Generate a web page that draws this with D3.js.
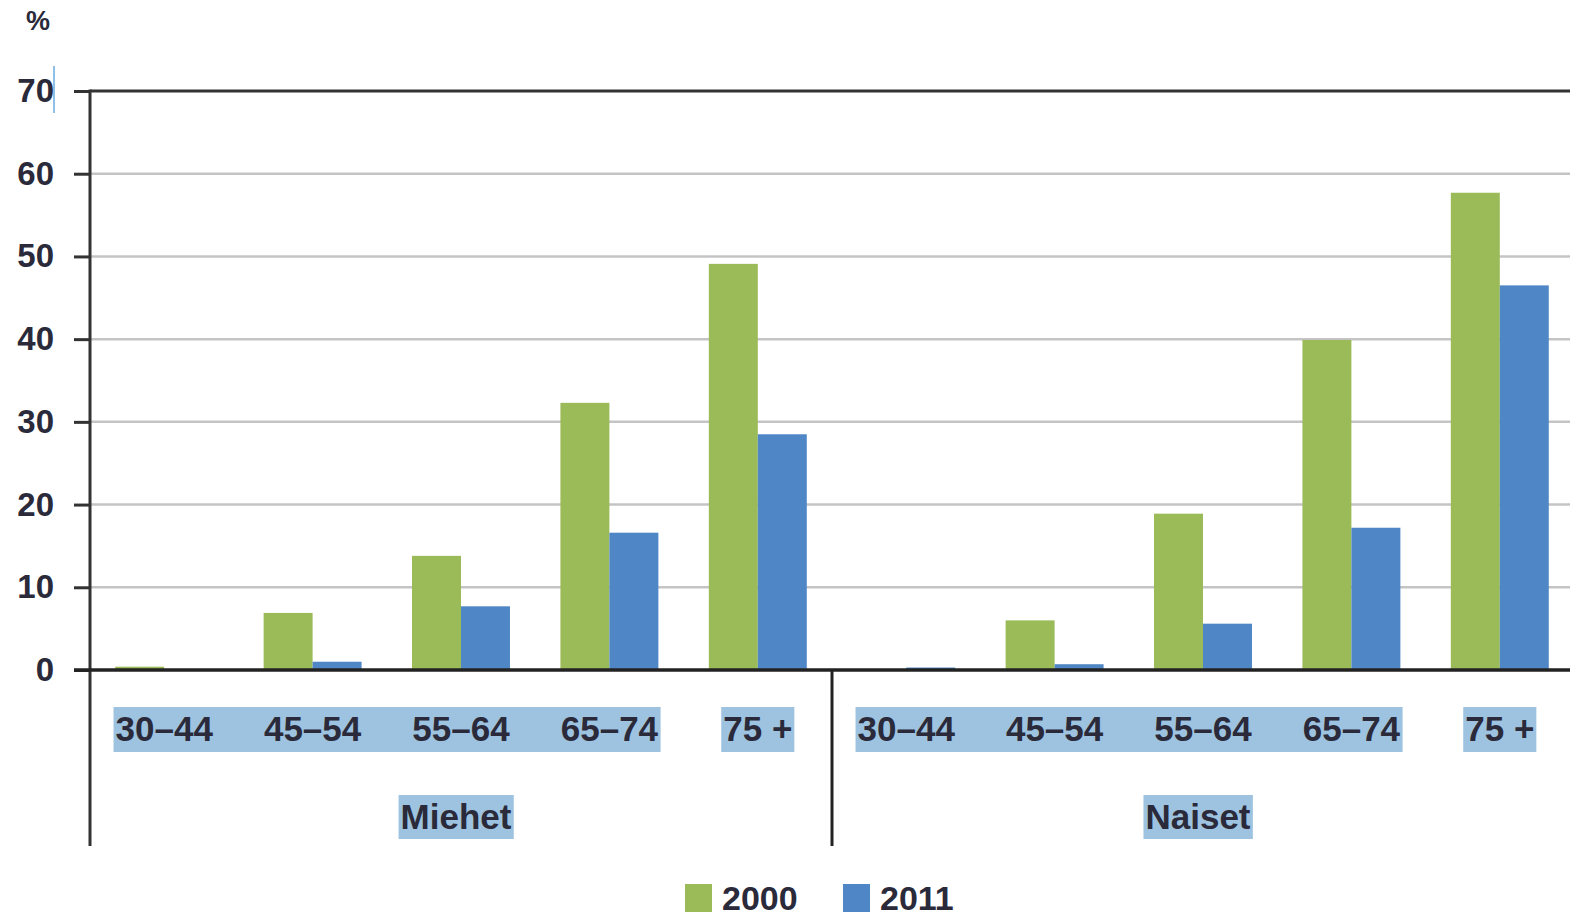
<!DOCTYPE html>
<html>
<head>
<meta charset="utf-8">
<script src="https://cdn.jsdelivr.net/npm/d3@7"></script>
<style>
  body { margin: 0; background: #fff; }
  svg { display: block; font-family: "Liberation Sans", Arial, sans-serif; }
</style>
</head>
<body>
<svg id="chart"></svg>
<script>
var groups = ['Miehet', 'Naiset']
var ageClasses = ['30–44', '45–54', '55–64', '65–74', '75 +']
var seriesNames = ['2000', '2011']
var values2000 = [0.4, 6.9, 13.8, 32.3, 49.1, 0.1, 6.0, 18.9, 39.9, 57.7]
var values2011 = [0.0, 1.0, 7.7, 16.6, 28.5, 0.3, 0.7, 5.6, 17.2, 46.5]
var yTicks = [0, 10, 20, 30, 40, 50, 60, 70]

var colors = ['#9bbb59', '#4f86c6']
var width = 1570, height = 917
var plotLeft = 90, plotRight = 1574, plotTop = 91, plotBottom = 670

var svg = d3.select('#chart')
    .attr('width', width)
    .attr('height', height)

// one key per bar category, e.g. "Miehet|30–44"
var keys = []
groups.forEach(function(g) {
    ageClasses.forEach(function(a) { keys.push(g + '|' + a) })
})

var x = d3.scaleBand()
    .domain(keys)
    .range([plotLeft, plotRight])
    .paddingInner(0)
    .paddingOuter(0)

var xSeries = d3.scaleBand()
    .domain(seriesNames)
    .range([0, x.bandwidth()])
    .paddingOuter(0.515)
    .paddingInner(0)

var y = d3.scaleLinear()
    .domain([0, 70])
    .range([plotBottom, plotTop])

// gridlines
svg.append('g')
    .selectAll('line')
    .data(yTicks.filter(function(d) { return d > 0 && d < 70 }))
    .enter()
    .append('line')
    .attr('x1', plotLeft)
    .attr('x2', width)
    .attr('y1', function(d) { return y(d) })
    .attr('y2', function(d) { return y(d) })
    .attr('stroke', '#c4c4c4')
    .attr('stroke-width', 2.5)

// top line at 70
svg.append('line')
    .attr('x1', plotLeft).attr('x2', width)
    .attr('y1', y(70)).attr('y2', y(70))
    .attr('stroke', '#333').attr('stroke-width', 3)

// bars
var rows = keys.map(function(k, i) {
    return { key: k, vals: [values2000[i], values2011[i]] }
})
var barGroups = svg.append('g')
    .selectAll('g')
    .data(rows)
    .enter()
    .append('g')
    .attr('transform', function(d) { return 'translate(' + x(d.key) + ',0)' })

barGroups.selectAll('rect')
    .data(function(d) { return d.vals.map(function(v, i) { return { s: seriesNames[i], v: v, c: colors[i] } }) })
    .enter()
    .append('rect')
    .attr('x', function(d) { return xSeries(d.s) })
    .attr('width', xSeries.bandwidth())
    .attr('y', function(d) { return y(d.v) })
    .attr('height', function(d) { return y(0) - y(d.v) })
    .attr('fill', function(d) { return d.c })

// y axis
var yAxis = d3.axisLeft(y)
    .tickValues(yTicks)
    .tickSize(16)
    .tickPadding(20)
    .tickFormat(d3.format('d'))

var yAxisG = svg.append('g')
    .attr('transform', 'translate(' + plotLeft + ',0)')
    .call(yAxis)
yAxisG.select('.domain').remove()
yAxisG.selectAll('.tick line').attr('stroke', '#333').attr('stroke-width', 3)
yAxisG.selectAll('.tick text')
    .attr('font-size', 33)
    .attr('font-weight', 'bold')
    .attr('fill', '#2a2a3a')

svg.append('line')
    .attr('x1', plotLeft).attr('x2', plotLeft)
    .attr('y1', plotTop - 1.5).attr('y2', 846)
    .attr('stroke', '#333').attr('stroke-width', 3)

// zero line
svg.append('line')
    .attr('x1', plotLeft - 16).attr('x2', width)
    .attr('y1', y(0)).attr('y2', y(0))
    .attr('stroke', '#222').attr('stroke-width', 3.5)

// group divider
var divX = x(groups[1] + '|' + ageClasses[0])
svg.append('line')
    .attr('x1', divX).attr('x2', divX)
    .attr('y1', y(0)).attr('y2', 846)
    .attr('stroke', '#222').attr('stroke-width', 3)

// unit label
svg.append('text')
    .attr('x', 38).attr('y', 30)
    .attr('text-anchor', 'middle')
    .attr('font-size', 27)
    .attr('font-weight', 'bold')
    .attr('fill', '#2a2a3a')
    .text('%')

// small cursor mark next to 70
svg.append('line')
    .attr('x1', 54).attr('x2', 54)
    .attr('y1', 66).attr('y2', 113)
    .attr('stroke', '#8fc0e8').attr('stroke-width', 2)

// category labels with highlight backgrounds
var hlColor = '#9dc3e0'
var labelLayer = svg.append('g')
var hlLayer = labelLayer.append('g')
var catLabels = labelLayer.append('g')
    .selectAll('text')
    .data(keys)
    .enter()
    .append('text')
    .attr('x', function(d) { return x(d) + x.bandwidth() / 2 })
    .attr('y', 741)
    .attr('text-anchor', 'middle')
    .attr('font-size', 35)
    .attr('font-weight', 'bold')
    .attr('fill', '#2a2a3a')
    .text(function(d) { return d.split('|')[1] })

var boxes = []
catLabels.each(function() { boxes.push(this.getBBox()) })
groups.forEach(function(g, gi) {
    var b0 = boxes[gi * 5], b3 = boxes[gi * 5 + 3], b4 = boxes[gi * 5 + 4]
    hlLayer.append('rect')
        .attr('x', b0.x - 2).attr('y', 707)
        .attr('width', b3.x + b3.width - b0.x + 4).attr('height', 45)
        .attr('fill', hlColor)
    hlLayer.append('rect')
        .attr('x', b4.x - 2).attr('y', 707)
        .attr('width', b4.width + 4).attr('height', 45)
        .attr('fill', hlColor)
})

// group labels
var groupLabels = labelLayer.append('g')
    .selectAll('text')
    .data(groups)
    .enter()
    .append('text')
    .attr('x', function(g) {
        return (x(g + '|' + ageClasses[0]) + x(g + '|' + ageClasses[4]) + x.bandwidth()) / 2 - 5
    })
    .attr('y', 829)
    .attr('text-anchor', 'middle')
    .attr('font-size', 35)
    .attr('font-weight', 'bold')
    .attr('fill', '#2a2a3a')
    .text(function(g) { return g })

groupLabels.each(function() {
    var b = this.getBBox()
    hlLayer.append('rect')
        .attr('x', b.x - 2).attr('y', 795)
        .attr('width', b.width + 4).attr('height', 44)
        .attr('fill', hlColor)
})

// legend
var legendX = [685, 843]
var legend = svg.append('g')
    .selectAll('g')
    .data(seriesNames)
    .enter()
    .append('g')
    .attr('transform', function(d, i) { return 'translate(' + legendX[i] + ',884)' })
legend.append('rect')
    .attr('width', 27).attr('height', 28)
    .attr('fill', function(d, i) { return colors[i] })
legend.append('text')
    .attr('x', 37).attr('y', 26)
    .attr('font-size', 34)
    .attr('font-weight', 'bold')
    .attr('fill', '#2a2a3a')
    .text(function(d) { return d })
</script>
</body>
</html>
